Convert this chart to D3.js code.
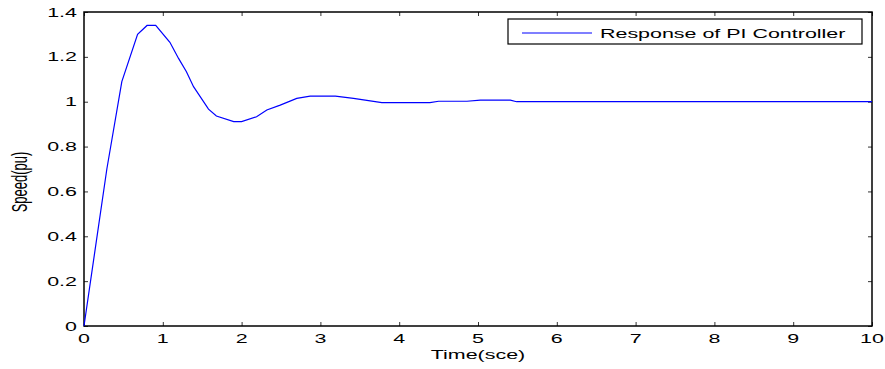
<!DOCTYPE html>
<html>
<head>
<meta charset="utf-8">
<script src="https://cdn.jsdelivr.net/npm/d3@7"></script>
<style>
  body { margin: 0; background: #fff; }
  text { font-family: Arial, "Liberation Sans", sans-serif; fill: #000; }
</style>
</head>
<body>
<div id="chart"></div>
<script>
// step response samples
const timeS = [0, 0.29, 0.48, 0.68, 0.80, 0.91, 1.09, 1.20, 1.30, 1.39, 1.58, 1.68, 1.90, 2.00,
  2.19, 2.32, 2.49, 2.70, 2.87, 3.19, 3.42, 3.78, 4.39, 4.50, 4.86, 5.03, 5.41, 5.49, 10];
const speedPu = [0, 0.70, 1.09, 1.30, 1.34, 1.34, 1.265, 1.193, 1.134, 1.067, 0.967, 0.936, 0.911, 0.911,
  0.933, 0.963, 0.985, 1.015, 1.025, 1.025, 1.015, 0.996, 0.996, 1.002, 1.002, 1.007, 1.007, 1.0, 1.0];
const xTicks = [0, 1, 2, 3, 4, 5, 6, 7, 8, 9, 10];
const yTicks = [0, 0.2, 0.4, 0.6, 0.8, 1, 1.2, 1.4];
const seriesName = 'Response of PI Controller';

const W = 885, H = 369;
const margin = { top: 12, right: 13, bottom: 43, left: 84 };
const width = W - margin.left - margin.right;
const height = H - margin.top - margin.bottom;
const sx = 1.65; // the picture is stretched sideways

const svg = d3.select('#chart').append('svg')
  .attr('width', W).attr('height', H);
const g = svg.append('g')
  .attr('transform', 'translate(' + margin.left + ',' + margin.top + ')');

const x = d3.scaleLinear().domain([0, 10]).range([0, width]);
const y = d3.scaleLinear().domain([0, 1.4]).range([height, 0]);

function fmt(d) { return d3.format('~g')(d); }

// ticks (inward) on all four sides
function ticks(sel, axis) {
  sel.call(axis);
  sel.select('.domain').remove();
  sel.selectAll('.tick line').attr('stroke', '#333').attr('stroke-width', 1);
}
g.append('g').attr('transform', 'translate(0,' + height + ')')
  .call(ticks, d3.axisBottom(x).tickValues(xTicks).tickSize(-4).tickFormat(''));
g.append('g')
  .call(ticks, d3.axisTop(x).tickValues(xTicks).tickSize(-4).tickFormat(''));
g.append('g')
  .call(ticks, d3.axisLeft(y).tickValues(yTicks).tickSize(-4).tickFormat(''));
g.append('g').attr('transform', 'translate(' + width + ',0)')
  .call(ticks, d3.axisRight(y).tickValues(yTicks).tickSize(-4).tickFormat(''));

// tick labels
g.append('g').selectAll('text').data(xTicks).join('text')
  .attr('transform', d => 'translate(' + x(d) + ',' + (height + 17) + ') scale(' + sx + ',1)')
  .attr('text-anchor', 'middle').attr('font-size', 13)
  .text(fmt);
g.append('g').selectAll('text').data(yTicks).join('text')
  .attr('transform', d => 'translate(-7,' + (y(d) + 4.5) + ') scale(' + sx + ',1)')
  .attr('text-anchor', 'end').attr('font-size', 13)
  .text(fmt);

// frame
g.append('rect')
  .attr('width', width).attr('height', height)
  .attr('fill', 'none').attr('stroke', '#000').attr('stroke-width', 1.5);

// series
const line = d3.line().x((d, i) => x(timeS[i])).y(d => y(d));
g.append('path')
  .datum(speedPu)
  .attr('d', line)
  .attr('fill', 'none')
  .attr('stroke', '#0000ff')
  .attr('stroke-width', 1.2);

// axis titles
svg.append('text')
  .attr('transform', 'translate(' + (margin.left + width / 2) + ',359) scale(' + sx + ',1)')
  .attr('text-anchor', 'middle').attr('font-size', 13)
  .text('Time(sce)');
svg.append('text')
  .attr('transform', 'translate(27,' + (margin.top + height / 2 + 13) + ') rotate(-90) scale(1,' + sx + ')')
  .attr('text-anchor', 'middle').attr('font-size', 13)
  .text('Speed(pu)');

// legend
const lg = svg.append('g').attr('transform', 'translate(508,19)');
lg.append('rect')
  .attr('width', 354).attr('height', 25)
  .attr('fill', '#fff').attr('stroke', '#000').attr('stroke-width', 1.2);
lg.append('line')
  .attr('x1', 14).attr('x2', 84).attr('y1', 14).attr('y2', 14)
  .attr('stroke', '#0000ff').attr('stroke-width', 1.2);
lg.append('text')
  .attr('transform', 'translate(92,19) scale(' + sx + ',1)')
  .attr('font-size', 13)
  .text(seriesName);
</script>
</body>
</html>
